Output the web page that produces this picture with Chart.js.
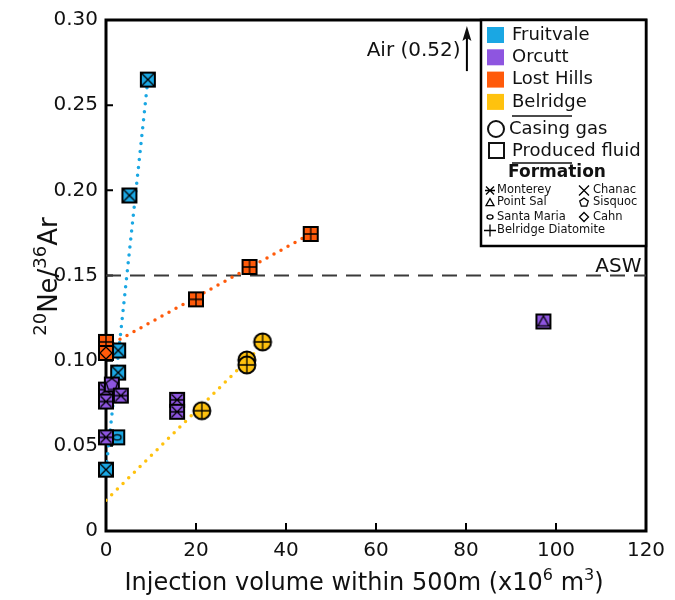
<!DOCTYPE html>
<html>
<head>
<meta charset="utf-8">
<script src="https://cdn.jsdelivr.net/npm/chart.js@4.4.1/dist/chart.umd.min.js"></script>
<style>
  html, body { margin: 0; padding: 0; background: #fff; }
</style>
</head>
<body>
<canvas id="neArChart" width="675" height="600"></canvas>
<script>
// injection volume (x10^6 m3) and 20Ne/36Ar
var fruitvaleX = [9.3, 5.2, 2.7, 2.7, 2.5, 0];
var fruitvaleY = [0.265, 0.197, 0.106, 0.093, 0.055, 0.036];
var fruitvaleForm = ['Chanac', 'Chanac', 'Chanac', 'Chanac', 'Santa Maria', 'Chanac'];

var orcuttX = [0, 0, 1.3, 3.3, 0, 15.8, 15.8, 97.2];
var orcuttY = [0.083, 0.076, 0.086, 0.0795, 0.055, 0.077, 0.070, 0.123];
var orcuttForm = ['Monterey', 'Monterey', 'Sisquoc', 'Monterey', 'Monterey', 'Monterey', 'Monterey', 'Point Sal'];

var lostHillsX = [0, 0, 20, 31.9, 45.5];
var lostHillsY = [0.111, 0.1045, 0.136, 0.155, 0.1744];
var lostHillsForm = ['Belridge Diatomite', 'Cahn', 'Belridge Diatomite', 'Belridge Diatomite', 'Belridge Diatomite'];

var belridgeX = [21.3, 31.3, 31.3, 34.8];
var belridgeY = [0.0706, 0.1004, 0.0975, 0.111];
var belridgeForm = ['Belridge Diatomite', 'Belridge Diatomite', 'Belridge Diatomite', 'Belridge Diatomite'];

// dotted trend lines (start / end)
var fruitvaleFitX = [0, 9.3];
var fruitvaleFitY = [0.036, 0.265];
var lostHillsFitX = [0, 45.5];
var lostHillsFitY = [0.108, 0.1745];
var belridgeFitX = [0, 33.2];
var belridgeFitY = [0.018, 0.105];

var aswValue = 0.15;
var xTicks = [0, 20, 40, 60, 80, 100, 120];
var yTicks = [0, 0.05, 0.10, 0.15, 0.20, 0.25, 0.30];

var colors = {
  'Fruitvale': '#1aa7e3',
  'Orcutt': '#8e55e0',
  'Lost Hills': '#ff5a0a',
  'Belridge': '#ffc20e'
};

function pts(xs, ys) {
  return xs.map(function(x, i){ return {x: x, y: ys[i]}; });
}

function drawSymbol(g, sym, x, y, r, fill) {
  var s;
  g.save();
  g.strokeStyle = '#000';
  g.lineWidth = 1.3;
  g.beginPath();
  if (sym === 'Chanac') {
    s = r - 0.5;
    g.moveTo(x - s, y - s); g.lineTo(x + s, y + s);
    g.moveTo(x - s, y + s); g.lineTo(x + s, y - s);
    g.stroke();
  } else if (sym === 'Monterey') {
    s = r - 1.5;
    g.moveTo(x - s, y - s); g.lineTo(x + s, y + s);
    g.moveTo(x - s, y + s); g.lineTo(x + s, y - s);
    g.moveTo(x - s - 1, y); g.lineTo(x + s + 1, y);
    g.stroke();
  } else if (sym === 'Point Sal') {
    s = r - 1.5;
    g.moveTo(x, y - s); g.lineTo(x + s, y + s * 0.8); g.lineTo(x - s, y + s * 0.8); g.closePath();
    g.stroke();
  } else if (sym === 'Sisquoc') {
    s = r - 1;
    for (var k = 0; k < 5; k++) {
      var a = -Math.PI / 2 + k * 2 * Math.PI / 5;
      if (k === 0) g.moveTo(x + s * Math.cos(a), y + s * Math.sin(a));
      else g.lineTo(x + s * Math.cos(a), y + s * Math.sin(a));
    }
    g.closePath();
    g.fillStyle = fill;
    g.fill();
    g.stroke();
  } else if (sym === 'Santa Maria') {
    g.ellipse(x, y, r * 0.55, r * 0.38, 0, 0, 2 * Math.PI);
    g.stroke();
  } else if (sym === 'Cahn') {
    s = r - 1;
    g.moveTo(x, y - s); g.lineTo(x + s, y); g.lineTo(x, y + s); g.lineTo(x - s, y); g.closePath();
    g.stroke();
  } else if (sym === 'Belridge Diatomite') {
    g.moveTo(x - r, y); g.lineTo(x + r, y);
    g.moveTo(x, y - r); g.lineTo(x, y + r);
    g.stroke();
  }
  g.restore();
}

var markerCache = {};
function marker(shape, fill, sym) {
  var key = shape + fill + sym;
  if (markerCache[key]) return markerCache[key];
  var n = 24, c = n / 2;
  var cv = document.createElement('canvas');
  cv.width = n; cv.height = n;
  var g = cv.getContext('2d');
  g.fillStyle = fill;
  g.strokeStyle = '#000';
  g.lineWidth = 2;
  if (shape === 'circle') {
    g.beginPath(); g.arc(c, c, 8.5, 0, 2 * Math.PI); g.fill(); g.stroke();
    drawSymbol(g, sym, c, c, 8.5, fill);
  } else {
    g.fillRect(c - 7, c - 7, 14, 14);
    g.strokeRect(c - 7, c - 7, 14, 14);
    drawSymbol(g, sym, c, c, 7, fill);
  }
  markerCache[key] = cv;
  return cv;
}

function pointSet(label, shape, xs, ys, forms) {
  var fill = colors[label];
  return {
    label: label,
    data: pts(xs, ys),
    pointStyle: forms.map(function(f){ return marker(shape, fill, f); }),
    pointRadius: 9,
    showLine: false,
    clip: false,
    order: 0
  };
}

function fitLine(label, xs, ys, col) {
  return {
    label: label,
    data: pts(xs, ys),
    showLine: true,
    borderColor: col,
    borderWidth: 3.5,
    borderDash: [0, 8],
    borderCapStyle: 'round',
    pointRadius: 0,
    order: 1
  };
}

// text with superscripts: parts = [[text, isSup], ...]
function richWidth(ctx, parts, size, supSize) {
  var w = 0;
  parts.forEach(function(p){
    ctx.font = (p[1] ? supSize : size) + 'px "DejaVu Sans"';
    w += ctx.measureText(p[0]).width;
  });
  return w;
}
function drawRich(ctx, parts, x, y, size, supSize) {
  var cx = x;
  parts.forEach(function(p){
    ctx.font = (p[1] ? supSize : size) + 'px "DejaVu Sans"';
    ctx.fillText(p[0], cx, p[1] ? y - size * 0.42 : y);
    cx += ctx.measureText(p[0]).width;
  });
}

var xTitle = [['Injection volume within 500m (x10', false], ['6', true], [' m', false], ['3', true], [')', false]];
var yTitle = [['20', true], ['Ne/', false], ['36', true], ['Ar', false]];

var frame = {
  id: 'frame',
  beforeDatasetsDraw: function(chart) {
    var ctx = chart.ctx, a = chart.chartArea, xs = chart.scales.x, ys = chart.scales.y;
    ctx.save();
    ctx.strokeStyle = '#000';
    ctx.lineWidth = 2;
    ctx.beginPath();
    xTicks.forEach(function(v){
      var p = xs.getPixelForValue(v);
      ctx.moveTo(p, a.bottom); ctx.lineTo(p, a.bottom - 8);
    });
    yTicks.forEach(function(v){
      var p = ys.getPixelForValue(v);
      ctx.moveTo(a.left, p); ctx.lineTo(a.left + 7, p);
    });
    ctx.stroke();
    ctx.lineWidth = 3;
    ctx.strokeRect(a.left, a.top, a.right - a.left, a.bottom - a.top);

    // axis titles
    ctx.fillStyle = '#111';
    ctx.textAlign = 'left';
    ctx.textBaseline = 'alphabetic';
    var w = richWidth(ctx, xTitle, 24, 16);
    drawRich(ctx, xTitle, 364 - w / 2, 590, 24, 16);
    ctx.save();
    ctx.translate(57, (a.top + a.bottom) / 2 + 1);
    ctx.rotate(-Math.PI / 2);
    w = richWidth(ctx, yTitle, 26, 18);
    drawRich(ctx, yTitle, -w / 2, 0, 26, 18);
    ctx.restore();
    ctx.restore();
  },
  afterDatasetsDraw: function(chart) {
    var ctx = chart.ctx, a = chart.chartArea, xs = chart.scales.x, ys = chart.scales.y;
    ctx.save();
    ctx.fillStyle = '#111';
    // ASW label
    ctx.font = '20px "DejaVu Sans"';
    ctx.textAlign = 'right';
    ctx.textBaseline = 'bottom';
    ctx.fillText('ASW', xs.getPixelForValue(119), ys.getPixelForValue(aswValue) + 1);
    // Air arrow
    var ax = xs.getPixelForValue(80.2);
    ctx.textAlign = 'right';
    ctx.textBaseline = 'middle';
    ctx.fillText('Air (0.52)', xs.getPixelForValue(78.8), ys.getPixelForValue(0.282));
    ctx.strokeStyle = '#000';
    ctx.lineWidth = 2;
    ctx.beginPath();
    ctx.moveTo(ax, ys.getPixelForValue(0.27));
    ctx.lineTo(ax, ys.getPixelForValue(0.29));
    ctx.stroke();
    var tip = ys.getPixelForValue(0.2965);
    ctx.beginPath();
    ctx.moveTo(ax, tip); ctx.lineTo(ax + 4.5, tip + 15); ctx.lineTo(ax, tip + 12); ctx.lineTo(ax - 4.5, tip + 15); ctx.closePath();
    ctx.fill();

    // legend box
    var L = a.right - 165, T = a.top, R = a.right, B = a.top + 226;
    ctx.fillStyle = '#fff';
    ctx.fillRect(L, T, R - L, B - T);
    ctx.lineWidth = 2.5;
    ctx.strokeRect(L, T, R - L, B - T);
    ctx.textAlign = 'left';
    ctx.textBaseline = 'middle';
    ctx.font = '18px "DejaVu Sans"';
    var names = ['Fruitvale', 'Orcutt', 'Lost Hills', 'Belridge'];
    names.forEach(function(nm, i){
      var cy = T + 15 + i * 22.3;
      ctx.fillStyle = colors[nm];
      ctx.fillRect(L + 6, cy - 8, 17, 16);
      ctx.fillStyle = '#111';
      ctx.fillText(nm, L + 31, cy);
    });
    ctx.strokeStyle = '#111';
    ctx.lineWidth = 1.5;
    ctx.beginPath();
    ctx.moveTo(L + 31, T + 96); ctx.lineTo(L + 91, T + 96);
    ctx.moveTo(L + 31, T + 143); ctx.lineTo(L + 91, T + 143);
    ctx.stroke();
    ctx.lineWidth = 2;
    ctx.beginPath(); ctx.arc(L + 15, T + 109, 8, 0, 2 * Math.PI); ctx.stroke();
    ctx.strokeRect(L + 8, T + 123, 15, 15);
    ctx.fillStyle = '#111';
    ctx.fillText('Casing gas', L + 28, T + 109);
    ctx.fillText('Produced fluid', L + 31, T + 131);
    ctx.font = 'bold 17px "DejaVu Sans"';
    ctx.textAlign = 'center';
    ctx.fillText('Formation', L + 76, T + 153);
    ctx.textAlign = 'left';
    ctx.font = '11.5px "DejaVu Sans"';
    var leftCol = ['Monterey', 'Point Sal', 'Santa Maria', 'Belridge Diatomite'];
    var rightCol = ['Chanac', 'Sisquoc', 'Cahn'];
    var rowY = [170.5, 182.5, 197, 210.5];
    leftCol.forEach(function(f, i){
      drawSymbol(ctx, f, L + 9, T + rowY[i], f === 'Belridge Diatomite' ? 6 : 5.5, '#fff');
      ctx.fillStyle = '#111';
      ctx.fillText(f, L + 16, T + rowY[i]);
    });
    rightCol.forEach(function(f, i){
      drawSymbol(ctx, f, L + 103, T + rowY[i], 5.5, '#fff');
      ctx.fillStyle = '#111';
      ctx.fillText(f, L + 112, T + rowY[i]);
    });
    ctx.restore();
  }
};

var ctx = document.getElementById('neArChart').getContext('2d');
var neArChart = new Chart(ctx, {
  type: 'scatter',
  data: {
    datasets: [
      pointSet('Belridge', 'circle', belridgeX, belridgeY, belridgeForm),
      pointSet('Lost Hills', 'square', lostHillsX, lostHillsY, lostHillsForm),
      pointSet('Orcutt', 'square', orcuttX, orcuttY, orcuttForm),
      pointSet('Fruitvale', 'square', fruitvaleX, fruitvaleY, fruitvaleForm),
      fitLine('Fruitvale fit', fruitvaleFitX, fruitvaleFitY, colors['Fruitvale']),
      fitLine('Lost Hills fit', lostHillsFitX, lostHillsFitY, colors['Lost Hills']),
      fitLine('Belridge fit', belridgeFitX, belridgeFitY, colors['Belridge']),
      {
        label: 'ASW',
        data: pts([0, 120], [aswValue, aswValue]),
        showLine: true,
        borderColor: '#3a3a3a',
        borderWidth: 2,
        borderDash: [15, 9],
        pointRadius: 0,
        order: 2
      }
    ]
  },
  options: {
    responsive: false,
    animation: false,
    layout: { padding: { top: 20, right: 29, left: 0, bottom: 0 } },
    plugins: {
      legend: { display: false },
      tooltip: { enabled: false }
    },
    scales: {
      x: {
        type: 'linear',
        min: 0,
        max: 120,
        afterFit: function(s){ s.height = 69; },
        afterBuildTicks: function(s){ s.ticks = xTicks.map(function(v){ return {value: v}; }); },
        grid: { display: false, drawTicks: false },
        border: { display: false },
        ticks: {
          padding: 8,
          maxRotation: 0,
          autoSkip: false,
          color: '#111',
          font: { family: '"DejaVu Sans"', size: 20 }
        },
        title: { display: false }
      },
      y: {
        type: 'linear',
        min: 0,
        max: 0.30,
        afterFit: function(s){ s.width = 106; },
        afterBuildTicks: function(s){ s.ticks = yTicks.map(function(v){ return {value: v}; }); },
        grid: { display: false, drawTicks: false },
        border: { display: false },
        ticks: {
          padding: 8,
          autoSkip: false,
          color: '#111',
          font: { family: '"DejaVu Sans"', size: 20 },
          callback: function(v){ return v === 0 ? '0' : Number(v).toFixed(2); }
        },
        title: { display: false }
      }
    }
  },
  plugins: [frame]
});
</script>
</body>
</html>
